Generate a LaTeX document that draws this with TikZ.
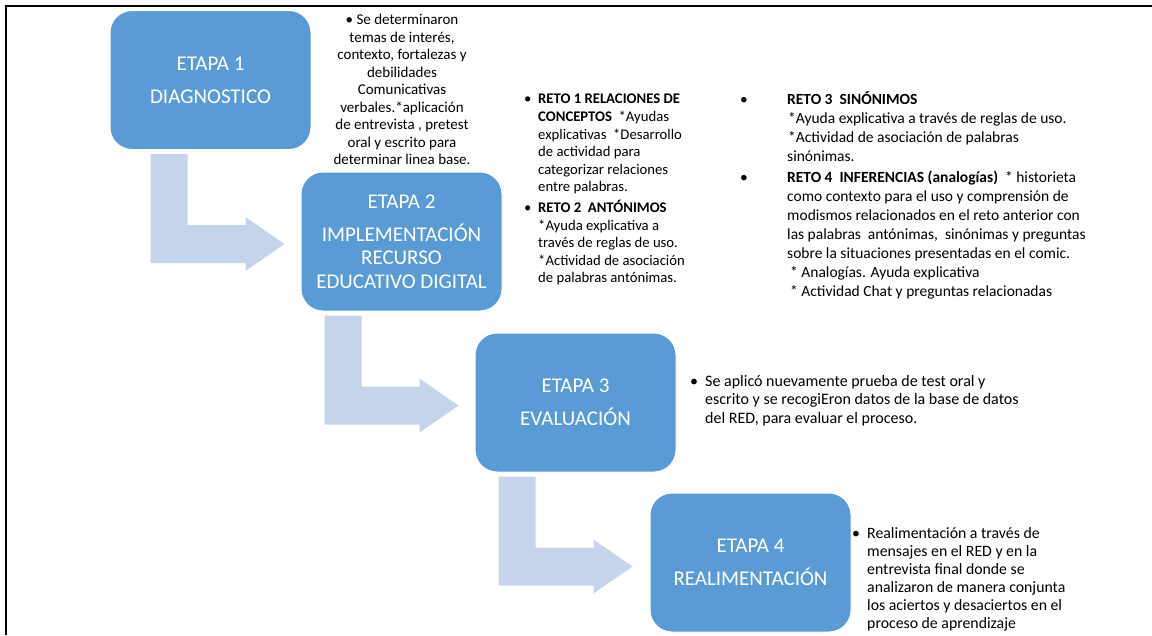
\documentclass[tikz,border=0pt]{standalone}
\usepackage{fontspec}
\setmainfont{Carlito}
\usepackage{xcolor}
\usetikzlibrary{calc}
\usetikzlibrary{positioning}

\definecolor{etapablue}{RGB}{91,155,213}
\definecolor{flecha}{RGB}{197,212,234}

% bent arrow, given the top left corner of its bar
\newcommand{\flechacodo}[1]{%
  \fill[flecha] (#1) -- ++(37,0) -- ++(0,71) -- ++(58,0) -- ++(0,-8)
    -- ++(39,27) -- ++(-39,27) -- ++(0,-8) -- ++(-95,0) -- cycle;}
\newcommand{\vineta}[1]{\makebox[#1][l]{•}}
\newcommand{\sangria}[1]{\hspace*{#1}}

\begin{document}
\begin{tikzpicture}[x=1pt,y=-1pt,
  etapa/.style={draw=white,line width=1pt,fill=etapablue,rounded corners=22pt,
    minimum width=201pt,minimum height=139pt,inner sep=2pt,text=white,
    align=center,font=\fontsize{21}{23.5}\selectfont},
  nota/.style={inner sep=0pt,align=left,font=\fontsize{15.5}{17.5}\selectfont}]
\useasboundingbox (0,0) rectangle (1152,635);
\draw[line width=2pt] (1152,6) -- (6,6) -- (6,635);

% the four stages
\node[etapa] (etapa1) at (210.5,80) {ETAPA 1\\[9.5pt]DIAGNOSTICO};
\node[etapa] (etapa2) at (401.5,241.5) {ETAPA 2\\[9.5pt]IMPLEMENTACIÓN\\RECURSO\\EDUCATIVO DIGITAL};
\node[etapa] (etapa3) at (575.5,402.5) {ETAPA 3\\[9.5pt]EVALUACIÓN};
\node[etapa] (etapa4) at (750.5,562.5) {ETAPA 4\\[9.5pt]REALIMENTACIÓN};

\flechacodo{$(etapa1.south west)+(41,4)$}
\flechacodo{$(etapa2.south west)+(24,4)$}
\flechacodo{$(etapa3.south west)+(24,4)$}

% notes
\node[nota,align=center,anchor=north,font=\fontsize{15}{17.5}\selectfont] (nota1) at (402,14)
  {• Se determinaron\\temas de interés,\\contexto, fortalezas y\\debilidades\\Comunicativas\\verbales.*aplicación\\de entrevista , pretest\\oral y escrito para\\determinar linea base.};
\node[nota,anchor=north west,font=\fontsize{14.7}{17.6}\selectfont] (nota2) at (524,94)
  {\vineta{14pt}\textbf{RETO 1 RELACIONES DE}\\
   \sangria{14pt}\textbf{CONCEPTOS}\ \ *Ayudas\\
   \sangria{14pt}explicativas\ \ *Desarrollo\\
   \sangria{14pt}de actividad para\\
   \sangria{14pt}categorizar relaciones\\
   \sangria{14pt}entre palabras.\\[3pt]
   \vineta{14pt}\textbf{RETO 2\ \ ANTÓNIMOS}\\
   \sangria{14pt}*Ayuda explicativa a\\
   \sangria{14pt}través de reglas de uso.\\
   \sangria{14pt}*Actividad de asociación\\
   \sangria{14pt}de palabras antónimas.};
\node[nota,anchor=north west,font=\fontsize{15.5}{19}\selectfont] (nota3) at (740,91)
  {\vineta{47pt}\textbf{RETO 3\ \ SINÓNIMOS}\\
   \sangria{48pt}*Ayuda explicativa a través de reglas de uso.\\
   \sangria{48pt}*Actividad de asociación de palabras\\
   \sangria{47pt}sinónimas.\\[2pt]
   \vineta{47pt}\textbf{RETO 4\ \ INFERENCIAS (analogías)}\ \ * historieta\\
   \sangria{47pt}como contexto para el uso y comprensión de\\
   \sangria{47pt}modismos relacionados en el reto anterior con\\
   \sangria{47pt}las palabras\ \ antónimas,\ \ sinónimas y preguntas\\
   \sangria{47pt}sobre la situaciones presentadas en el comic.\\
   \sangria{50pt}* Analogías. Ayuda explicativa\\
   \sangria{50pt}* Actividad Chat y preguntas relacionadas};
\node[nota,anchor=north west,font=\fontsize{16}{18.5}\selectfont] (nota4) at (690,375)
  {\vineta{15pt}Se aplicó nuevamente prueba de test oral y\\
   \sangria{15pt}escrito y se recogiEron datos de la base de datos\\
   \sangria{15pt}del RED, para evaluar el proceso.};
\node[nota,anchor=north west,font=\fontsize{15.8}{18}\selectfont] (nota5) at (852,527)
  {\vineta{15pt}Realimentación a través de\\
   \sangria{15pt}mensajes en el RED y en la\\
   \sangria{15pt}entrevista final donde se\\
   \sangria{15pt}analizaron de manera conjunta\\
   \sangria{15pt}los aciertos y desaciertos en el\\
   \sangria{15pt}proceso de aprendizaje};
\end{tikzpicture}
\end{document}
